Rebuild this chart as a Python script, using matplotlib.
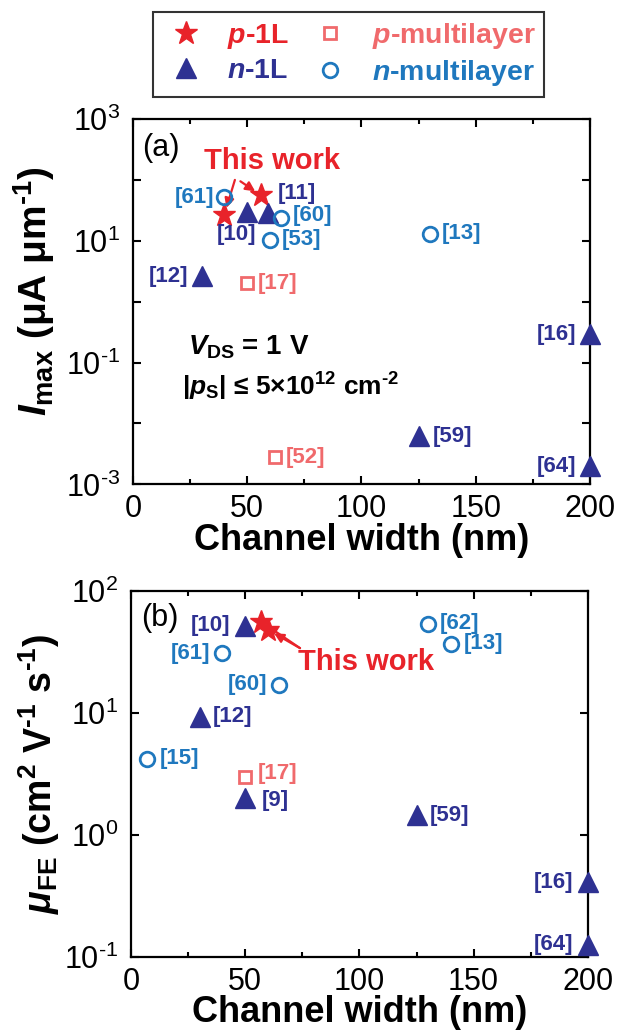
import matplotlib
matplotlib.use('Agg')
import matplotlib.pyplot as plt

plt.rcParams['font.family'] = ['Liberation Sans', 'DejaVu Sans']
plt.rcParams['mathtext.fontset'] = 'custom'
plt.rcParams['mathtext.rm'] = 'Liberation Sans:bold'
plt.rcParams['mathtext.it'] = 'Liberation Sans:italic:bold'
plt.rcParams['mathtext.bf'] = 'Liberation Sans:bold'
plt.rcParams['mathtext.sf'] = 'Liberation Sans:bold'

HY = '\u2010'  # short hyphen used as minus sign in the reference

# ---------------- data ----------------
# Panel (a): maximum current (uA/um) vs channel width (nm)
a_p1L_x = [40, 56]
a_p1L_y = [27, 56]
a_n1L_x = [50, 59, 30, 200, 125, 200]
a_n1L_y = [30, 29, 2.6, 0.29, 0.0062, 0.002]
a_n1L_ref = ['[10]', '[11]', '[12]', '[16]', '[59]', '[64]']
a_pml_x = [50, 62]
a_pml_y = [2.0, 0.0028]
a_pml_ref = ['[17]', '[52]']
a_nml_x = [40, 65, 60, 130]
a_nml_y = [52, 24, 10.5, 13]
a_nml_ref = ['[61]', '[60]', '[53]', '[13]']

# Panel (b): field-effect mobility (cm2/Vs) vs channel width (nm)
b_p1L_x = [57, 60]
b_p1L_y = [56, 48]
b_n1L_x = [50, 30, 50, 125, 200, 200]
b_n1L_y = [52, 9.3, 2.0, 1.45, 0.41, 0.126]
b_n1L_ref = ['[10]', '[12]', '[9]', '[59]', '[16]', '[64]']
b_pml_x = [50]
b_pml_y = [3.0]
b_pml_ref = ['[17]']
b_nml_x = [40, 65, 7, 130, 140]
b_nml_y = [31, 17, 4.2, 54, 37]
b_nml_ref = ['[61]', '[60]', '[15]', '[62]', '[13]']

xticks = [0, 50, 100, 150, 200]
xticklabels = ['0', '50', '100', '150', '200']
a_yticks = [1e-3, 1e-2, 1e-1, 1e0, 1e1, 1e2, 1e3]
a_yticklabels = [r'$\mathregular{10^{' + HY + '3}}$', '',
                 r'$\mathregular{10^{' + HY + '1}}$', '',
                 r'$\mathregular{10^{1}}$', '', r'$\mathregular{10^{3}}$']
b_yticks = [1e-1, 1e0, 1e1, 1e2]
b_yticklabels = [r'$\mathregular{10^{' + HY + '1}}$', r'$\mathregular{10^{0}}$',
                 r'$\mathregular{10^{1}}$', r'$\mathregular{10^{2}}$']

# ---------------- styles ----------------
C_P1L = '#E8232A'
C_PML = '#F06A6C'
C_N1L = '#2E3192'
C_NML = '#1F78BE'

# label placement (offset in pixels, horizontal alignment)
a_place = {'[61]': (-10, 0, 'right'), '[10]': (-11, -23, 'center'),
           '[11]': (10, 19, 'left'), '[60]': (11, 2, 'left'),
           '[53]': (12, 0, 'left'), '[12]': (-13, 0, 'right'),
           '[17]': (11, 0, 'left'), '[13]': (12, 0, 'left'),
           '[16]': (-14, 0, 'right'), '[59]': (14, 0, 'left'),
           '[64]': (-14, 0, 'right'), '[52]': (11, 0, 'left')}
b_place = {'[10]': (-15, 0, 'right'), '[61]': (-12, 0, 'right'),
           '[60]': (-12, 0, 'right'), '[12]': (13, 0, 'left'),
           '[15]': (13, 0, 'left'), '[17]': (13, 3, 'left'),
           '[9]': (17, -2, 'left'), '[62]': (12, 0, 'left'),
           '[13]': (13, 0, 'left'), '[59]': (13, 0, 'left'),
           '[16]': (-15, 0, 'right'), '[64]': (-15, 0, 'right')}

fig = plt.figure(figsize=(6.17, 10.35), dpi=100)
ax_a = fig.add_axes([0.2156, 0.532, 0.7404, 0.353])
ax_b = fig.add_axes([0.2123, 0.0754, 0.7404, 0.3536])

mk = dict(linestyle='none', clip_on=False, zorder=5)


def draw_panel(ax, p1L, n1L, pml, nml, place):
    hs = []
    h, = ax.plot(p1L[0], p1L[1], marker='*', ms=17, color=C_P1L, mec=C_P1L, **mk)
    hs.append(h)
    h, = ax.plot(n1L[0], n1L[1], marker='^', ms=15, color=C_N1L, mec=C_N1L, **mk)
    hs.append(h)
    h, = ax.plot(pml[0], pml[1], marker='s', ms=8.5, color=C_PML, mfc='none',
                 mec=C_PML, mew=2, **mk)
    hs.append(h)
    h, = ax.plot(nml[0], nml[1], marker='o', ms=10.5, color=C_NML, mfc='none',
                 mec=C_NML, mew=2, **mk)
    hs.append(h)
    for (xs, ys, refs), col in ((n1L, C_N1L), (pml, C_PML), (nml, C_NML)):
        for x, y, r in zip(xs, ys, refs):
            dx, dy, ha = place[r]
            ax.annotate(r, (x, y), xytext=(dx * 0.72, dy * 0.72),
                        textcoords='offset points', ha=ha, va='center',
                        color=col, fontsize=16, fontweight='bold', zorder=6,
                        annotation_clip=False)
    ax.set_yscale('log')
    ax.set_xlim(0, 200)
    ax.set_xticks(xticks)
    ax.set_xticklabels(xticklabels)
    ax.set_xticks([25, 75, 125, 175], minor=True)
    ax.tick_params(axis='both', which='both', direction='in', top=True,
                   right=True, width=1.5)
    ax.tick_params(axis='x', which='major', length=6, labelsize=22, pad=7)
    ax.tick_params(axis='y', which='major', length=6, labelsize=22, pad=9)
    ax.tick_params(axis='x', which='minor', length=3.5)
    ax.tick_params(axis='y', which='minor', length=0)
    for s in ax.spines.values():
        s.set_linewidth(1.6)
    ax.set_xlabel('Channel width (nm)', fontsize=26, fontweight='bold',
                  labelpad=-1)
    return hs


hs = draw_panel(ax_a, (a_p1L_x, a_p1L_y),
                (a_n1L_x, a_n1L_y, a_n1L_ref),
                (a_pml_x, a_pml_y, a_pml_ref),
                (a_nml_x, a_nml_y, a_nml_ref), a_place)
ax_a.set_ylim(1e-3, 1e3)
ax_a.set_yticks(a_yticks)
ax_a.set_yticklabels(a_yticklabels)
ax_a.yaxis.set_minor_locator(matplotlib.ticker.NullLocator())
ax_a.set_ylabel(r'$I_{\rm max}$ (μA μm$^{' + HY + '1}$)', fontsize=28,
                fontweight='bold')
ax_a.yaxis.set_label_coords(-0.166, 0.53)

draw_panel(ax_b, (b_p1L_x, b_p1L_y),
           (b_n1L_x, b_n1L_y, b_n1L_ref),
           (b_pml_x, b_pml_y, b_pml_ref),
           (b_nml_x, b_nml_y, b_nml_ref), b_place)
ax_b.set_ylim(1e-1, 1e2)
ax_b.set_yticks(b_yticks)
ax_b.set_yticklabels(b_yticklabels)
ax_b.yaxis.set_minor_locator(matplotlib.ticker.NullLocator())
ax_b.set_ylabel(r'$\mu_{\rm FE}$ (cm$^{2}$ V$^{' + HY + '1}$ s$^{' + HY + '1}$)',
                fontsize=27, fontweight='bold')
ax_b.yaxis.set_label_coords(-0.15, 0.5)

# panel letters and notes
ax_a.text(0.061, 0.92, '(a)', transform=ax_a.transAxes, fontsize=22,
          ha='center', va='center')
ax_b.text(0.063, 0.926, '(b)', transform=ax_b.transAxes, fontsize=22,
          ha='center', va='center')
ax_a.text(0.12, 0.375, r'$V_{\rm DS}$ = 1 V', transform=ax_a.transAxes,
          fontsize=20, fontweight='bold', ha='left', va='center')
ax_a.text(0.107, 0.268, r'|$p_{\rm S}$| ≤ 5×10$^{12}$ cm$^{' + HY + '2}$',
          transform=ax_a.transAxes, fontsize=19, fontweight='bold',
          ha='left', va='center')

arrow = dict(arrowstyle='-|>', color=C_P1L, lw=1.6, mutation_scale=14,
             shrinkA=0, shrinkB=5)
ax_a.text(61, 205, 'This work', color=C_P1L, fontsize=21, fontweight='bold',
          ha='center', va='center')
ax_a.annotate('', xy=(a_p1L_x[0], a_p1L_y[0]), xytext=(44.6, 100),
              arrowprops=arrow)
ax_a.annotate('', xy=(a_p1L_x[1], a_p1L_y[1]), xytext=(47, 95),
              arrowprops=arrow)

ax_b.text(103, 26, 'This work', color=C_P1L, fontsize=21, fontweight='bold',
          ha='center', va='center')
ax_b.annotate('', xy=(b_p1L_x[0], b_p1L_y[0]), xytext=(74, 34),
              arrowprops=arrow)
ax_b.annotate('', xy=(b_p1L_x[1], b_p1L_y[1]), xytext=(74, 34),
              arrowprops=arrow)

# legend
leg_labels = [r'$p$-1L', r'$n$-1L', r'$p$-multilayer', r'$n$-multilayer']
leg_colors = [C_P1L, C_N1L, C_PML, C_NML]
leg = fig.legend(hs, leg_labels, ncol=2, loc='upper center',
                 bbox_to_anchor=(0.565, 0.988), borderaxespad=0,
                 frameon=True, fancybox=False,
                 edgecolor='black', prop={'size': 20.5, 'weight': 'bold'},
                 handletextpad=0.6, columnspacing=0.6, borderpad=0.3,
                 labelspacing=0.25, handlelength=1.7)
leg.get_frame().set_linewidth(1.5)
for t, c in zip(leg.get_texts(), leg_colors):
    t.set_color(c)

fig.savefig('out.png', dpi=100)
